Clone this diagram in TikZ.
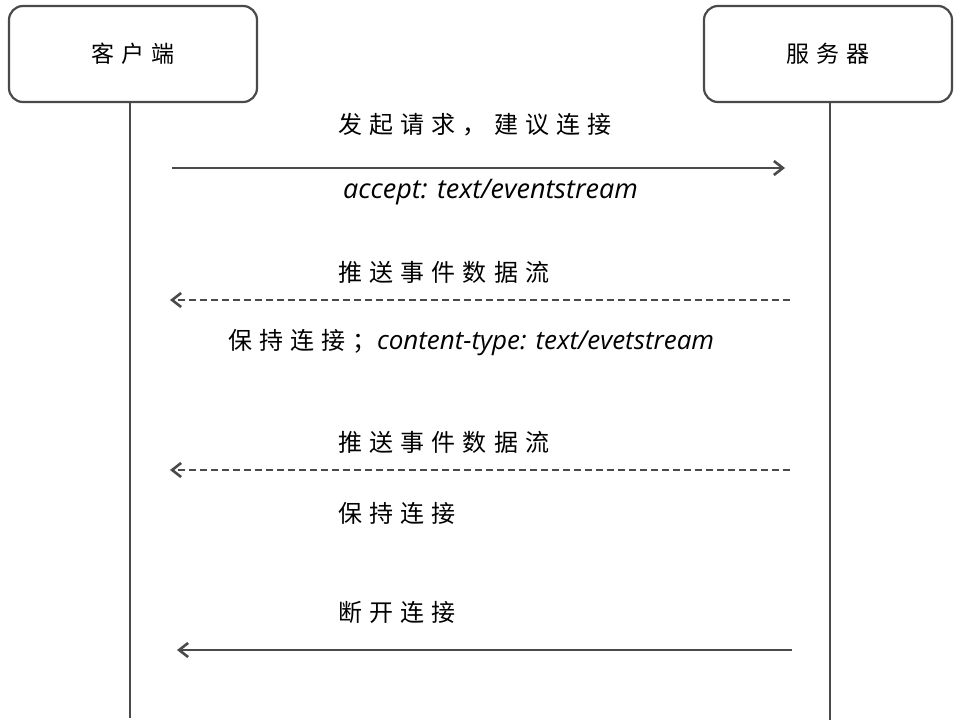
\documentclass[tikz,border=0pt]{standalone}
\usepackage{fontspec}
\setmainfont{Noto Sans CJK SC}[LetterSpace=30]
\newfontfamily\latinit{Open Sans}[LetterSpace=0]
\usetikzlibrary{arrows.meta}
\definecolor{ink}{HTML}{4A4A4A}
\begin{document}
\begin{tikzpicture}[x=1pt,y=-1pt,
  actor/.style={draw=ink,line width=2.2pt,rounded corners=14pt,minimum width=248pt,minimum height=96pt,font=\fontsize{23}{27}\selectfont},
  life/.style={draw=ink,line width=2.2pt},
  msg/.style={draw=ink,line width=2.6pt,-{Straight Barb[length=9pt,width=14pt]}},
  dmsg/.style={msg,dash pattern=on 7pt off 4pt},
  lbl/.style={font=\fontsize{24}{28}\selectfont,text=black,anchor=west,inner sep=0pt},
  ilbl/.style={font=\fontsize{27}{31}\selectfont\latinit\itshape,text=black,anchor=west,inner sep=0pt}]
\useasboundingbox (0,0) rectangle (962,726);
\node[actor] (c) at (133,54) {客户端};
\node[actor] (s) at (828,54) {服务器};
\coordinate (cb) at (130,718);
\coordinate (sb) at (830,720);
\draw[life] (c.south -| cb) -- (cb);
\draw[life] (s.south -| sb) -- (sb);
\coordinate (a1) at (172,168); \coordinate (b1) at (785,168);
\coordinate (a2) at (790,300); \coordinate (b2) at (170,300);
\coordinate (a3) at (790,470); \coordinate (b3) at (170,470);
\coordinate (a4) at (792,650); \coordinate (b4) at (177,650);
\draw[msg] (a1) -- (b1);
\draw[dmsg] (a2) -- (b2);
\draw[dmsg] (a3) -- (b3);
\draw[msg] (a4) -- (b4);
\node[lbl] (l1) at (338,125) {发起请求，建议连接};
\node[ilbl] (l1b) at (343,192) {accept: text/eventstream};
\node[lbl] (l2) at (338,272) {推送事件数据流};
\node[lbl] (l2b) at (228,343) {保持连接；{\latinit\itshape\fontsize{26}{30}\selectfont content-type: text/evetstream}};
\node[lbl] (l3) at (338,442) {推送事件数据流};
\node[lbl] (l3b) at (338,513) {保持连接};
\node[lbl] (l4) at (338,612) {断开连接};
\end{tikzpicture}
\end{document}
